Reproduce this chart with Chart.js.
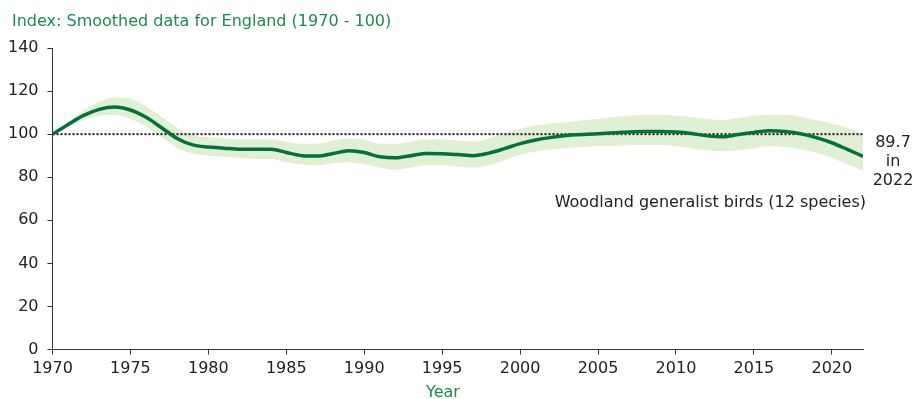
<!DOCTYPE html>
<html>
<head>
<meta charset="utf-8">
<script src="https://cdn.jsdelivr.net/npm/chart.js@4/dist/chart.umd.min.js"></script>
<style>
  html, body { margin: 0; padding: 0; background: #ffffff; }
  #wrap { width: 915px; height: 399px; }
</style>
</head>
<body>
<div id="wrap"><canvas id="c" width="915" height="399"></canvas></div>
<script>
// Woodland generalist birds, England: smoothed index (1970 = 100)
const years = [1970,1971,1972,1973,1974,1975,1976,1977,1978,1979,
               1980,1981,1982,1983,1984,1985,1986,1987,1988,1989,
               1990,1991,1992,1993,1994,1995,1996,1997,1998,1999,
               2000,2001,2002,2003,2004,2005,2006,2007,2008,2009,
               2010,2011,2012,2013,2014,2015,2016,2017,2018,2019,
               2020,2021,2022];

const indexValues = [100,104.5,108.7,111.5,112.6,111.2,107.8,103,98,95,
                     94,93.5,93,93,93,91.5,90,89.8,91,92.3,
                     91.5,89.5,89,90,91,90.9,90.5,90,91.2,93.3,
                     95.6,97.3,98.5,99.4,99.8,100.2,100.6,101,101.2,101.2,
                     101,100.3,99.2,98.8,99.8,100.8,101.6,101.2,100.2,98.4,
                     96,92.9,89.7];

const upperCI = [100,105.5,111,115,117,116.5,113,108,103,99.5,
                 98.5,98,97.5,97.5,97.5,96.5,95.5,95.5,97,98,
                 97.5,95.5,95.5,96.5,97.5,97.5,97,96.5,98,100.5,
                 102.5,104,105,105.5,106.5,107,108,108.5,109,109,
                 108.5,108,107,106.5,107.5,108.5,109,109,108,106.5,
                 105,103,100];

const lowerCI = [100,103.5,106.5,108.5,109,107,103.5,98.5,93.5,91,
                 90,89.5,89,88.5,88.5,87,86,85.5,86.5,87,
                 86,84.5,83.5,84.5,85.5,85.5,85,84.5,85.5,88,
                 90.5,92,93,93.5,94,94.5,94.5,95,95,95,
                 94.5,93.5,92.5,92,92.5,93.5,94.5,94,93,91.5,
                 89,86,83];

const baselineValue = 100;
const xTicks = [1970,1975,1980,1985,1990,1995,2000,2005,2010,2015,2020];
const yTicks = [0,20,40,60,80,100,120,140];

const seriesLabel = 'Woodland generalist birds (12 species)';
const titleText = 'Index: Smoothed data for England (1970 - 100)';
const xAxisTitle = 'Year';
const endNote = ['89.7', 'in', '2022'];

const FONT = "'DejaVu Sans', Verdana, sans-serif";
const GREEN_TEXT = '#1f8a4f';
const LINE_GREEN = '#04703a';
const BAND_GREEN = '#e1efd4';
const INK = '#222222';

const pts = (vals) => years.map((y, i) => ({ x: y, y: vals[i] }));

const annotations = {
  id: 'annotations',
  afterDraw(chart) {
    const ctx = chart.ctx;
    const xs = chart.scales.x;
    ctx.save();
    ctx.font = '16px ' + FONT;
    ctx.textBaseline = 'alphabetic';

    ctx.fillStyle = GREEN_TEXT;
    ctx.textAlign = 'left';
    ctx.fillText(titleText, 12, 26);

    ctx.textAlign = 'center';
    ctx.fillText(xAxisTitle, 443, 397);

    ctx.fillStyle = INK;
    ctx.textAlign = 'right';
    ctx.fillText(seriesLabel, 866, 207);

    ctx.textAlign = 'center';
    const cx = 893;
    ctx.fillText(endNote[0], cx, 147);
    ctx.fillText(endNote[1], cx, 166);
    ctx.fillText(endNote[2], cx, 185);
    ctx.restore();
  }
};

new Chart(document.getElementById('c'), {
  type: 'line',
  data: {
    datasets: [
      {
        label: 'index',
        data: pts(indexValues),
        borderColor: LINE_GREEN,
        borderWidth: 3.5,
        pointRadius: 0,
        cubicInterpolationMode: 'monotone',
        fill: false,
        order: 0
      },
      {
        label: 'baseline',
        data: [{ x: years[0], y: baselineValue }, { x: years[years.length - 1], y: baselineValue }],
        borderColor: '#1a1a1a',
        borderWidth: 2,
        borderDash: [2, 2],
        pointRadius: 0,
        fill: false,
        order: 1
      },
      {
        label: 'upper',
        data: pts(upperCI),
        borderWidth: 0,
        borderColor: 'rgba(0,0,0,0)',
        backgroundColor: BAND_GREEN,
        pointRadius: 0,
        cubicInterpolationMode: 'monotone',
        fill: '+1',
        order: 2
      },
      {
        label: 'lower',
        data: pts(lowerCI),
        borderWidth: 0,
        borderColor: 'rgba(0,0,0,0)',
        pointRadius: 0,
        cubicInterpolationMode: 'monotone',
        fill: false,
        order: 3
      }
    ]
  },
  options: {
    responsive: false,
    animation: false,
    events: [],
    layout: { padding: { left: 0, right: 52, top: 48, bottom: 0 } },
    plugins: {
      legend: { display: false },
      title: { display: false },
      tooltip: { enabled: false }
    },
    scales: {
      x: {
        type: 'linear',
        min: years[0],
        max: years[years.length - 1],
        afterBuildTicks(scale) { scale.ticks = xTicks.map(v => ({ value: v })); },
        afterFit(scale) { scale.height = 49.5; },
        border: { display: true, color: '#333333', width: 1 },
        grid: { display: true, drawOnChartArea: false, drawTicks: true, tickLength: 5, color: '#333333' },
        ticks: {
          color: INK,
          font: { family: FONT, size: 16 },
          padding: 5,
          maxRotation: 0,
          autoSkip: false,
          callback: (v) => String(v)
        }
      },
      y: {
        type: 'linear',
        min: yTicks[0],
        max: yTicks[yTicks.length - 1],
        afterBuildTicks(scale) { scale.ticks = yTicks.map(v => ({ value: v })); },
        afterFit(scale) { scale.width = 52.5; },
        border: { display: true, color: '#333333', width: 1 },
        grid: { display: true, drawOnChartArea: false, drawTicks: true, tickLength: 5, color: '#333333' },
        ticks: {
          color: INK,
          font: { family: FONT, size: 16 },
          padding: 9,
          callback: (v) => String(v)
        }
      }
    }
  },
  plugins: [annotations]
});
</script>
</body>
</html>
